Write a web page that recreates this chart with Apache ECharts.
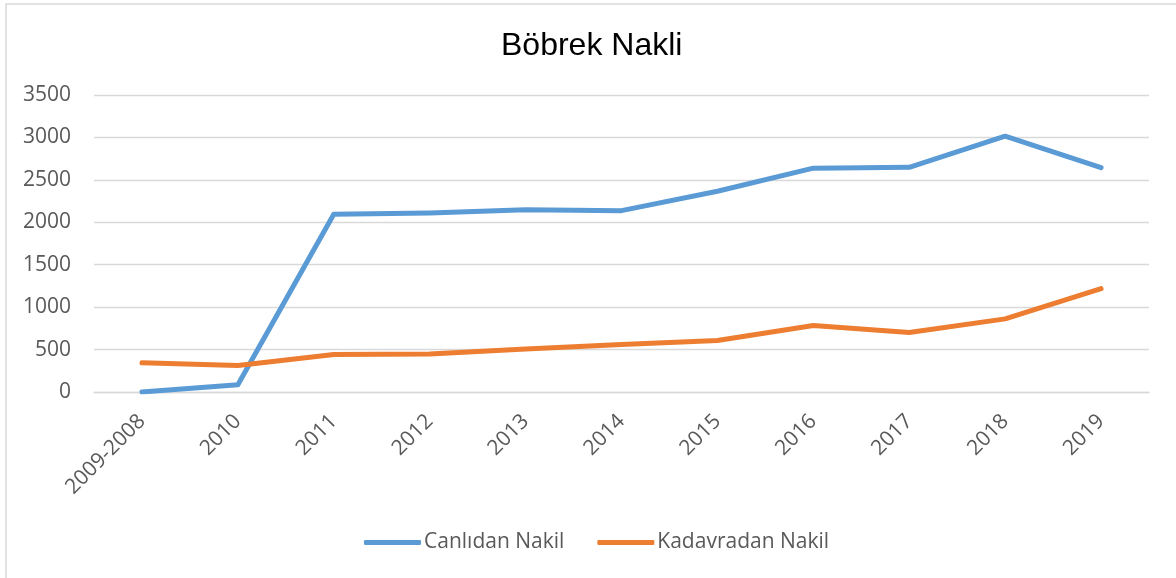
<!DOCTYPE html>
<html>
<head>
<meta charset="utf-8">
<script src="https://cdn.jsdelivr.net/npm/echarts@6/dist/echarts.min.js"></script>
<style>
    html, body { margin: 0; padding: 0; background: #fff; }
    #chart { width: 1176px; height: 578px; }
</style>
</head>
<body>
<div id="chart"></div>
<script>
const years = ['2009-2008', '2010', '2011', '2012', '2013', '2014', '2015', '2016', '2017', '2018', '2019'];
const canlidan = [0, 86, 2094, 2110, 2148, 2137, 2366, 2638, 2648, 3014, 2644];
const kadavradan = [345, 313, 443, 447, 506, 560, 607, 784, 701, 862, 1218];
const yTicks = [0, 500, 1000, 1500, 2000, 2500, 3000, 3500];

const labelFont = 'Open Sans';
const labelColor = '#595959';

const chart = echarts.init(document.getElementById('chart'));

const option = {
    backgroundColor: '#fff',
    animation: false,
    title: {
        text: 'Böbrek Nakli',
        left: 496,
        top: 25,
        textStyle: {
            fontFamily: 'Liberation Sans',
            fontSize: 32,
            fontWeight: 'normal',
            color: '#000'
        }
    },
    graphic: [
        {
            type: 'rect',
            silent: true,
            shape: { x: 6, y: 4, width: 1200, height: 600 },
            style: { fill: 'none', stroke: '#d9d9d9', lineWidth: 1.5 }
        }
    ],
    legend: {
        bottom: 20,
        left: 359,
        icon: 'roundRect',
        itemWidth: 57,
        itemHeight: 5,
        itemGap: 33,
        textStyle: {
            fontFamily: labelFont,
            fontSize: 21,
            color: labelColor,
            padding: [0, 0, 0, -2]
        },
        data: ['Canlıdan Nakil', 'Kadavradan Nakil']
    },
    grid: {
        left: 94,
        right: 27,
        top: 95,
        bottom: 186,
        containLabel: false
    },
    xAxis: {
        type: 'category',
        data: years,
        boundaryGap: true,
        axisLine: { lineStyle: { color: '#d9d9d9', width: 1.3 } },
        axisTick: { show: false },
        axisLabel: {
            rotate: 45,
            margin: 26,
            fontFamily: labelFont,
            fontSize: 21,
            color: labelColor
        }
    },
    yAxis: {
        type: 'value',
        min: yTicks[0],
        max: yTicks[yTicks.length - 1],
        interval: 500,
        axisLine: { show: false },
        axisTick: { show: false },
        axisLabel: {
            margin: 23,
            fontFamily: labelFont,
            fontSize: 21,
            color: labelColor,
            formatter: (v) => String(v)
        },
        splitLine: { lineStyle: { color: '#d9d9d9', width: 1.3 } }
    },
    series: [
        {
            name: 'Canlıdan Nakil',
            type: 'line',
            data: canlidan,
            symbol: 'none',
            color: '#5b9bd5',
            lineStyle: { width: 5, color: '#5b9bd5', cap: 'round', join: 'round' }
        },
        {
            name: 'Kadavradan Nakil',
            type: 'line',
            data: kadavradan,
            symbol: 'none',
            color: '#ed7d31',
            lineStyle: { width: 5, color: '#ed7d31', cap: 'round', join: 'round' }
        }
    ]
};

chart.setOption(option);
</script>
</body>
</html>
